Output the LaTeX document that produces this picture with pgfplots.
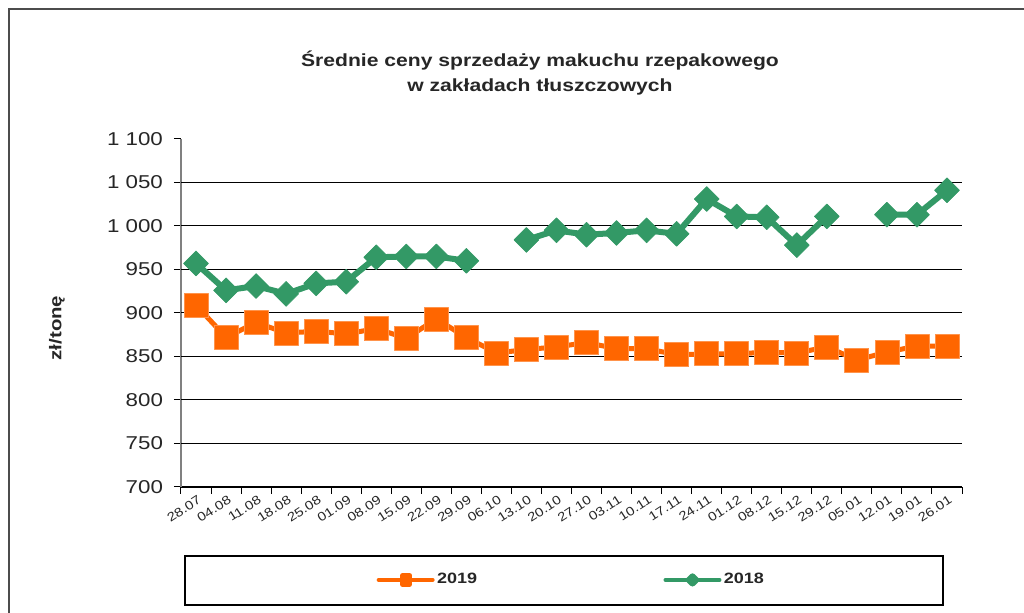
\documentclass[border=0pt]{standalone}
\usepackage{fontspec}
\setmainfont{Liberation Sans}[FakeStretch=1.2]
\usepackage{pgfplots}
\pgfplotsset{compat=1.18}
\definecolor{c19}{HTML}{FF6600}
\definecolor{c18}{HTML}{339966}
\definecolor{txt}{HTML}{262626}
\begin{document}
\begin{tikzpicture}
\useasboundingbox (0,0) rectangle (512pt,-306.5pt);
\draw[line width=0.6pt, black!70] (4.5pt,-330pt) -- (4.5pt,-4.5pt) -- (540pt,-4.5pt);
\node[font=\bfseries\fontsize{8.8}{12.5}\selectfont, align=center, text=txt] at (270pt,-36.75pt) {Średnie ceny sprzedaży makuchu rzepakowego\\w zakładach tłuszczowych};
\node[font=\bfseries\fontsize{8.5}{10}\selectfont, rotate=90, text=txt] at (28.5pt,-164pt) {zł/tonę};
\begin{axis}[
  at={(90.5pt,-243.5pt)}, anchor=south west,
  scale only axis, width=390.5pt, height=174pt,
  xmin=-0.5, xmax=25.5, ymin=700, ymax=1100,
  axis x line*=bottom, axis y line*=left,
  x axis line style={black, line width=0.6pt, -},
  y axis line style={black!50, line width=0.8pt, -},
  tick align=outside,
  major tick length=3.5pt,
  tick style={black, line width=0.5pt},
  ytick={700,750,...,1100},
  extra y ticks={750,800,...,1050},
  extra y tick labels={},
  extra y tick style={grid=major, major tick length=0pt},
  major grid style={black, line width=0.5pt},
  xtick={-0.5,0.5,...,25.5},
  xticklabels={},
  extra x ticks={0,1,...,25},
  extra x tick labels={28.07,04.08,11.08,18.08,25.08,01.09,08.09,15.09,22.09,29.09,06.10,13.10,20.10,27.10,03.11,10.11,17.11,24.11,01.12,08.12,15.12,29.12,05.01,12.01,19.01,26.01},
  extra x tick style={major tick length=0pt},
  x tick label style={font=\fontsize{6.2}{7}\selectfont, text=txt, rotate=33, anchor=north east, inner sep=1.5pt, yshift=-2pt},
  y tick label style={font=\fontsize{9.3}{11}\selectfont, text=txt, xshift=-2pt},
  /pgf/number format/.cd, 1000 sep={\ }, assume math mode=true,
  /pgfplots/.cd,
  unbounded coords=jump,
  clip=false,
  legend columns=2,
  legend style={draw=none, fill=none, at={(0.5,-0.267)}, anchor=center,
    font=\bfseries\fontsize{7.5}{9}\selectfont, text=txt,
    nodes={inner sep=1.2pt},
    /tikz/every even column/.append style={column sep=92pt}},
]
\addplot[c19, line width=2.5pt, line join=round, mark=square*, mark size=6pt,
  mark options={fill=c19, draw=c19!70!white, line width=0.4pt},
  legend image code/.code={\draw[c19, line width=2pt, line cap=round] (0pt,0pt) -- (27pt,0pt); \fill[c19] (12pt,-2.2pt) rectangle (15.5pt,2.2pt);}]
coordinates {
(0,909) (1,872) (2,889) (3,877) (4,879) (5,876) (6,882) (7,871) (8,893) (9,872)
(10,854) (11,858) (12,861) (13,866) (14,859) (15,859) (16,852) (17,853) (18,853) (19,855)
(20,854) (21,861) (22,846) (23,855) (24,862) (25,862)
};
\addlegendentry{2019}
\addplot[c18, line width=3pt, line join=round, mark=square*, mark size=4.4pt,
  mark options={fill=c18, draw=c18, line width=0.3pt, rotate=45},
  legend image code/.code={\draw[c18, line width=2pt, line cap=round] (0pt,0pt) -- (27pt,0pt); \fill[c18] (13.5pt,1.8pt) -- (15.3pt,0pt) -- (13.5pt,-1.8pt) -- (11.7pt,0pt) -- cycle;}]
coordinates {
(0,957) (1,926) (2,931) (3,922) (4,934) (5,936) (6,964) (7,965) (8,965) (9,960)
(10,nan) (11,984) (12,995) (13,990) (14,992) (15,995) (16,991) (17,1031) (18,1011) (19,1010)
(20,978) (21,1011) (22,nan) (23,1013) (24,1013) (25,1041)
};
\addlegendentry{2018}
\end{axis}
\draw[black, line width=0.6pt] (92.5pt,-278pt) rectangle (471.5pt,-302.5pt);
\end{tikzpicture}
\end{document}
